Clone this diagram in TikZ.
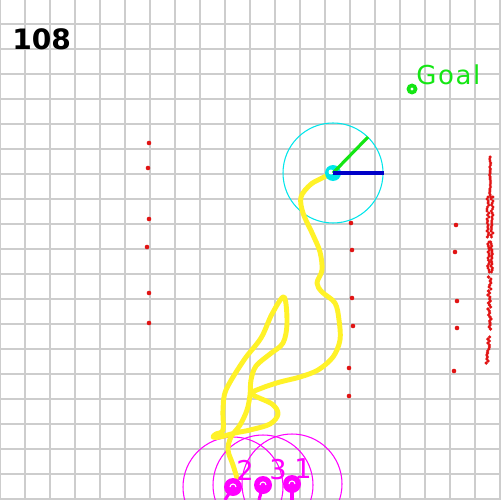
\documentclass[tikz,border=0pt]{standalone}
\usepackage{fontspec}
\setmainfont{DejaVu Sans}
\usetikzlibrary{calc}
\definecolor{gridgray}{RGB}{205,205,205}
\definecolor{scanred}{RGB}{225,20,20}
\definecolor{trailyellow}{RGB}{255,242,40}
\definecolor{robotcyan}{RGB}{0,230,235}
\definecolor{goalgreen}{RGB}{20,230,20}
\definecolor{headblue}{RGB}{0,0,200}
\definecolor{peermagenta}{RGB}{255,0,255}

\begin{document}
\begin{tikzpicture}[x=0.02cm, y=-0.02cm,
    gridline/.style={draw=gridgray, line width=0.6pt},
    scanpt/.style={fill=scanred},
    peerring/.style={draw=peermagenta, line width=0.6pt},
    peerbody/.style={fill=peermagenta},
    peertail/.style={draw=peermagenta, line width=1.8pt},
    peerlabel/.style={text=peermagenta, font=\fontsize{15.5}{16}\selectfont, inner sep=0pt}]
  % Fond et cadre
  \fill[white] (0,0) rectangle (500,500);
  \useasboundingbox (0,0) rectangle (500,500);

  % Grille
  \foreach \k in {0,...,20} {
    \draw[gridline] (25*\k,0) -- (25*\k,500);
    \draw[gridline] (0,25*\k-1) -- (500,25*\k-1);
  }

  % Points du scan
  \foreach \px/\py in {149/143, 148/168, 149/219, 147/247, 149/293, 149/323,
                       351/223, 352/250, 352/298, 353/326, 349/368, 349/396,
                       456/225, 455/252, 457/301, 457/328, 454/371}
    \fill[scanpt] (\px,\py) circle[radius=2.3];
  \pgfmathsetseed{7}
  \foreach \py in {157,159,...,197}
    \fill[scanpt] ({490+0.6*rand},\py) circle[radius=1.7];
  \foreach \py in {197,199,...,238} {
    \fill[scanpt] ({488+rand},\py) circle[radius=1.7];
    \fill[scanpt] ({492+rand},\py) circle[radius=1.7];
  }
  \foreach \py in {242,244,...,273} {
    \fill[scanpt] ({488.5+rand},\py) circle[radius=1.7];
    \fill[scanpt] ({491.5+rand},\py) circle[radius=1.7];
  }
  \foreach \py in {277,279,...,330}
    \fill[scanpt] ({489.5+1.5*rand},\py) circle[radius=1.8];
  \foreach \py in {337,339,...,363}
    \fill[scanpt] ({489-0.08*(\py-337)+1.2*rand},\py) circle[radius=1.8];

  % Robots voisins
  \coordinate (peerB) at (233,487);
  \coordinate (peerC) at (263,485);
  \coordinate (peerA) at (292,484);
  \foreach \p in {peerB, peerC, peerA}
    \draw[peerring] (\p) circle[radius=50];

  % Robot courant
  \coordinate (cur) at (333,173);
  \draw[draw=robotcyan, line width=0.6pt] (cur) circle[radius=50];

  % Trajectoire
  \draw[trailyellow, line width=2.8pt, line cap=round, line join=round]
    plot[smooth, tension=0.55] coordinates {
      (237,478) (233,465) (228,450) (231,437) (240,425) (247,410) (250,395)
      (251,380) (256,366) (270,354) (283,343) (287,323) (284,297) (272,314)
      (261,338) (244,360) (226,390) (223,410) (223,430) (216,434) (213,437)
      (220,437) (235,433) (250,430) (270,424) (278,414) (272,404) (252,394)
      (262,388) (280,382) (300,377) (318,370) (333,357) (340,340) (339,320)
      (335,303) (322,292) (317,283) (322,270) (320,252) (313,235) (303,213)
      (301,197) (310,185) (320,179) (333,173)};

  % Cap et orientation
  \coordinate (goalDir) at (368,137);
  \coordinate (headDir) at (384,173);
  \fill[robotcyan] (cur) circle[radius=8];
  \fill[white] (331,172) circle[radius=2.5];
  \draw[goalgreen, line width=1.8pt] (cur) -- (goalDir);
  \draw[headblue, line width=1.8pt] (cur) -- (headDir);

  % Corps des robots voisins
  \coordinate (tailB) at (225,500);
  \coordinate (tailC) at (259,500);
  \coordinate (tailA) at (292,500);
  \draw[peertail] (peerB) -- (tailB);
  \draw[peertail] (peerC) -- (tailC);
  \draw[peertail] (peerA) -- (tailA);
  \foreach \p in {peerB, peerC, peerA} {
    \fill[peerbody] (\p) circle[radius=9];
    \draw[white, line width=0.6pt] ($(\p)+(-3,0)$) arc[start angle=180, end angle=360, radius=3];
  }
  \node[peerlabel] (lblB) at (245,470) {2};
  \node[peerlabel] (lblC) at (278,470) {3};
  \node[peerlabel] (lblA) at (303,469) {1};

  % But
  \coordinate (goal) at (412,89);
  \fill[goalgreen] (goal) circle[radius=5.5];
  \fill[white] (goal) circle[radius=1.6];
  \node[anchor=base west, text=goalgreen, font=\fontsize{14.8}{16}\selectfont, inner sep=0pt] (goalLbl) at (416,85) {G\kern0.9pt o\kern0.9pt a\kern0.9pt l};

  % Numero d'iteration
  \node[anchor=base west, font=\fontsize{16}{17}\bfseries\selectfont, inner sep=0pt] (iter) at (12,50) {108};
\end{tikzpicture}
\end{document}
